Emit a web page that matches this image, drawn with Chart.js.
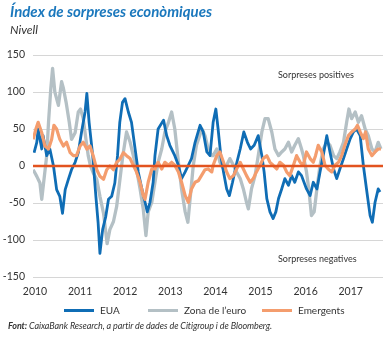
<!DOCTYPE html>
<html>
<head>
<meta charset="utf-8">
<script src="https://cdn.jsdelivr.net/npm/chart.js@4.4.1/dist/chart.umd.min.js"></script>
<style>
    body { margin: 0; width: 386px; height: 338px; background: #fff; position: relative; overflow: hidden; font-family: Lato, "Open Sans", sans-serif; }
    #chart-box { position: absolute; left: 0; top: 0; width: 386px; height: 338px; }
    .txt { position: absolute; white-space: nowrap; }
    #title { left: 10px; top: 2px; font-size: 15px; font-weight: 700; font-style: italic; color: #1b78bd; }
    #subtitle { left: 10px; top: 22px; font-size: 12px; font-style: italic; color: #333; }
    #note-pos { left: 278px; top: 69px; font-size: 9px; color: #333; }
    #note-neg { left: 278px; top: 253px; font-size: 9px; color: #333; }
    #legend { left: 0; top: 304px; width: 386px; font-size: 10px; color: #333; }
    .leg { position: absolute; top: 0; }
    .leg i { display: inline-block; width: 30px; height: 3px; vertical-align: middle; margin-right: 6px; position: relative; top: -1px; }
    #source { left: 8px; top: 320px; font-size: 9px; font-style: italic; color: #333; letter-spacing: -0.1px; }
</style>
</head>
<body>
<div id="chart-box"><canvas id="surprise-chart"></canvas></div>
<div class="txt" id="title">Índex de sorpreses econòmiques</div>
<div class="txt" id="subtitle">Nivell</div>
<div class="txt" id="note-pos">Sorpreses positives</div>
<div class="txt" id="note-neg">Sorpreses negatives</div>
<div class="txt" id="legend"></div>
<div class="txt" id="source"><b>Font:</b> CaixaBank Research, a partir de dades de Citigroup i de Bloomberg.</div>
<script>
// Axis bounds and ticks
const xMin = 2009.956;
const xMax = 2017.716;
const yTicks = [-150, -100, -50, 0, 50, 100, 150];
const yearTicks = [2010, 2011, 2012, 2013, 2014, 2015, 2016, 2017];

// EUA
const euaDates = [2009.98, 2010.04, 2010.07, 2010.15, 2010.18, 2010.26, 2010.33, 2010.41, 2010.48, 2010.55,
    2010.61, 2010.67, 2010.74, 2010.81, 2010.89, 2010.96, 2011.03, 2011.11, 2011.15, 2011.20,
    2011.28, 2011.35, 2011.40, 2011.44, 2011.50, 2011.57, 2011.63, 2011.70, 2011.77, 2011.83,
    2011.88, 2011.94, 2011.996, 2012.07, 2012.14, 2012.22, 2012.29, 2012.37, 2012.44, 2012.49,
    2012.55, 2012.62, 2012.66, 2012.73, 2012.85, 2012.92, 2012.99, 2013.10, 2013.18, 2013.25,
    2013.33, 2013.40, 2013.47, 2013.55, 2013.66, 2013.73, 2013.81, 2013.88, 2013.95, 2014.01,
    2014.06, 2014.12, 2014.18, 2014.25, 2014.31, 2014.38, 2014.46, 2014.55, 2014.63, 2014.71,
    2014.78, 2014.86, 2014.95, 2015.03, 2015.08, 2015.14, 2015.21, 2015.28, 2015.34, 2015.40,
    2015.47, 2015.54, 2015.62, 2015.69, 2015.76, 2015.84, 2015.91, 2016.02, 2016.10, 2016.17,
    2016.25, 2016.32, 2016.39, 2016.47, 2016.54, 2016.62, 2016.69, 2016.76, 2016.84, 2016.91,
    2016.99, 2017.06, 2017.13, 2017.21, 2017.28, 2017.35, 2017.43, 2017.48, 2017.54, 2017.61, 2017.65];
const euaValues = [18, 32, 50, 23, 41, 14, 23, 0, -32, -41,
    -64, -32, -18, -5, 5, 18, 45, 73, 98, 59,
    14, -41, -77, -118, -86, -68, -45, -41, -23, 14,
    59, 86, 91, 73, 59, 23, -8, -31, -49, -62,
    -49, -22, 14, 50, 62, 41, 28, 14, 1, -17,
    -8, 1, 10, 32, 55, 46, 19, 14, 59, 77,
    50, 14, -8, -31, -40, -22, 1, 23, 46, 32,
    23, 28, 41, 14, -8, -44, -62, -71, -62, -44,
    -31, -17, -26, -13, -22, -8, -13, -31, -40, -22,
    -31, -8, 14, 41, 19, -4, -17, -4, 10, 23,
    37, 46, 50, 41, 1, -31, -67, -76, -49, -31, -35];

// Zona de l'euro
const euroDates = [2009.96, 2010.04, 2010.11, 2010.15, 2010.20, 2010.26, 2010.30, 2010.35, 2010.39, 2010.44,
    2010.52, 2010.59, 2010.63, 2010.69, 2010.76, 2010.81, 2010.89, 2010.96, 2011.01, 2011.07,
    2011.13, 2011.18, 2011.23, 2011.29, 2011.37, 2011.44, 2011.52, 2011.60, 2011.66, 2011.74,
    2011.81, 2011.88, 2011.95, 2012.03, 2012.11, 2012.18, 2012.25, 2012.33, 2012.40, 2012.46,
    2012.51, 2012.59, 2012.66, 2012.73, 2012.81, 2012.88, 2012.96, 2013.03, 2013.10, 2013.18,
    2013.25, 2013.33, 2013.39, 2013.44, 2013.51, 2013.58, 2013.70, 2013.77, 2013.84, 2013.92,
    2013.95, 2014.03, 2014.10, 2014.18, 2014.25, 2014.32, 2014.40, 2014.47, 2014.55, 2014.62,
    2014.69, 2014.73, 2014.80, 2014.88, 2014.95, 2015.03, 2015.10, 2015.17, 2015.25, 2015.32,
    2015.40, 2015.47, 2015.54, 2015.62, 2015.69, 2015.76, 2015.84, 2015.91, 2015.95, 2016.02,
    2016.07, 2016.13, 2016.19, 2016.25, 2016.32, 2016.39, 2016.47, 2016.54, 2016.62, 2016.69,
    2016.76, 2016.84, 2016.91, 2016.96, 2017.02, 2017.10, 2017.17, 2017.24, 2017.32, 2017.39,
    2017.47, 2017.54, 2017.61, 2017.67];
const euroValues = [-5, -14, -23, -45, -18, 14, 59, 104, 132, 100,
    82, 114, 105, 86, 59, 36, 45, 73, 77, 64,
    36, 14, 0, -9, -18, -41, -64, -105, -86, -75,
    -55, -20, 15, 46, 32, 14, -4, -31, -58, -94,
    -62, -49, -22, 5, 23, 46, 59, 73, 50, 5,
    -31, -62, -76, -44, 1, 28, 50, 41, 23, 14,
    14, 23, 5, -4, 1, 10, 1, -8, -17, -31,
    -49, -58, -31, -13, 14, 46, 64, 64, 46, 23,
    14, 19, 23, 32, 19, 28, 37, 23, 14, -8,
    -31, -67, -62, -31, 1, 23, 32, 28, 14, 10,
    19, 32, 59, 77, 64, 73, 59, 68, 50, 41,
    23, 19, 32, 23];

// Emergents
const emergDates = [2009.96, 2010.02, 2010.07, 2010.15, 2010.22, 2010.30, 2010.37, 2010.42, 2010.48, 2010.55,
    2010.63, 2010.70, 2010.78, 2010.85, 2010.92, 2011.00, 2011.07, 2011.15, 2011.22, 2011.29,
    2011.37, 2011.44, 2011.52, 2011.59, 2011.66, 2011.74, 2011.81, 2011.88, 2011.96, 2012.03,
    2012.11, 2012.18, 2012.25, 2012.33, 2012.40, 2012.44, 2012.51, 2012.59, 2012.66, 2012.73,
    2012.81, 2012.88, 2012.96, 2013.03, 2013.10, 2013.18, 2013.25, 2013.33, 2013.40, 2013.47,
    2013.55, 2013.62, 2013.70, 2013.77, 2013.84, 2013.92, 2013.95, 2014.03, 2014.10, 2014.18,
    2014.25, 2014.32, 2014.40, 2014.47, 2014.55, 2014.62, 2014.69, 2014.77, 2014.84, 2014.91,
    2014.99, 2015.06, 2015.14, 2015.21, 2015.28, 2015.36, 2015.43, 2015.51, 2015.58, 2015.65,
    2015.73, 2015.80, 2015.88, 2015.95, 2016.02, 2016.10, 2016.17, 2016.22, 2016.28, 2016.36,
    2016.43, 2016.50, 2016.58, 2016.65, 2016.73, 2016.80, 2016.87, 2016.95, 2017.02, 2017.10,
    2017.15, 2017.21, 2017.28, 2017.33, 2017.39, 2017.47, 2017.54, 2017.61, 2017.67];
const emergValues = [36, 50, 59, 45, 27, 23, 36, 55, 50, 36,
    27, 32, 18, 14, 14, 27, 32, 23, 27, 14,
    -5, -14, -18, -5, 0, -5, 5, 9, 18, 14,
    10, 1, -8, -22, -40, -45, -22, -4, -4, 5,
    -4, 5, 1, 5, 1, -8, -22, -40, -49, -31,
    -22, -20, -12, -5, -4, -8, 1, 14, 19, 5,
    -8, -17, -13, -4, 5, -4, -13, -22, -17, -8,
    1, 10, 14, 5, 1, -4, 5, 1, -8, -13,
    1, 14, 5, 1, 19, 10, 5, 14, 28, 19,
    1, -4, -8, 1, 5, 14, 28, 41, 46, 50,
    55, 46, 37, 46, 23, 14, 19, 23, 23];

const seriesNames = ['EUA', 'Zona de l\u2019euro', 'Emergents'];
const seriesColors = ['#0f6db5', '#b4c0c5', '#f49d6e'];
const zeroColor = '#e2531f';

function toPoints(dates, values) {
    return dates.map((d, i) => ({ x: d, y: values[i] }));
}

const canvas = document.getElementById('surprise-chart');

new Chart(canvas, {
    type: 'line',
    data: {
        datasets: [
            {
                label: seriesNames[0],
                data: toPoints(euaDates, euaValues),
                borderColor: seriesColors[0],
                backgroundColor: seriesColors[0],
                borderWidth: 2.8,
                order: 2
            },
            {
                label: seriesNames[1],
                data: toPoints(euroDates, euroValues),
                borderColor: seriesColors[1],
                backgroundColor: seriesColors[1],
                borderWidth: 3.3,
                order: 3
            },
            {
                label: seriesNames[2],
                data: toPoints(emergDates, emergValues),
                borderColor: seriesColors[2],
                backgroundColor: seriesColors[2],
                borderWidth: 3.2,
                order: 1
            },
            {
                label: 'zero',
                data: [{ x: xMin, y: 0 }, { x: xMax, y: 0 }],
                borderColor: zeroColor,
                borderWidth: 2.5,
                order: 0
            }
        ]
    },
    options: {
        responsive: true,
        maintainAspectRatio: false,
        animation: false,
        layout: {
            padding: { top: 55, right: 3, bottom: 39, left: 0 }
        },
        elements: {
            point: { radius: 0 },
            line: { tension: 0, borderJoinStyle: 'round' }
        },
        scales: {
            x: {
                type: 'linear',
                min: xMin,
                max: xMax,
                afterFit: s => { s.height = 22; },
                afterBuildTicks: s => { s.ticks = yearTicks.map(v => ({ value: v })); },
                grid: { display: false },
                border: { display: false },
                ticks: {
                    padding: 0,
                    color: '#333',
                    font: { family: 'Lato', size: 10.5 },
                    callback: v => String(v),
                    maxRotation: 0,
                    autoSkip: false
                }
            },
            y: {
                min: -150,
                max: 150,
                afterFit: s => { s.width = 33; },
                afterBuildTicks: s => { s.ticks = yTicks.map(v => ({ value: v })); },
                grid: { color: '#d6d6d6', lineWidth: 1, drawTicks: false },
                border: { display: false },
                ticks: {
                    padding: 8,
                    color: '#333',
                    font: { family: 'Lato', size: 10.5 }
                }
            }
        },
        plugins: {
            legend: { display: false },
            tooltip: { enabled: false }
        }
    }
});

// HTML legend, same order and colours as the datasets
const legendEl = document.getElementById('legend');
const legendLeft = [64, 148, 262];
seriesNames.forEach((name, i) => {
    const item = document.createElement('span');
    item.className = 'leg';
    item.style.left = legendLeft[i] + 'px';
    item.innerHTML = '<i style="background:' + seriesColors[i] + '"></i>' + name;
    legendEl.appendChild(item);
});
</script>
</body>
</html>
